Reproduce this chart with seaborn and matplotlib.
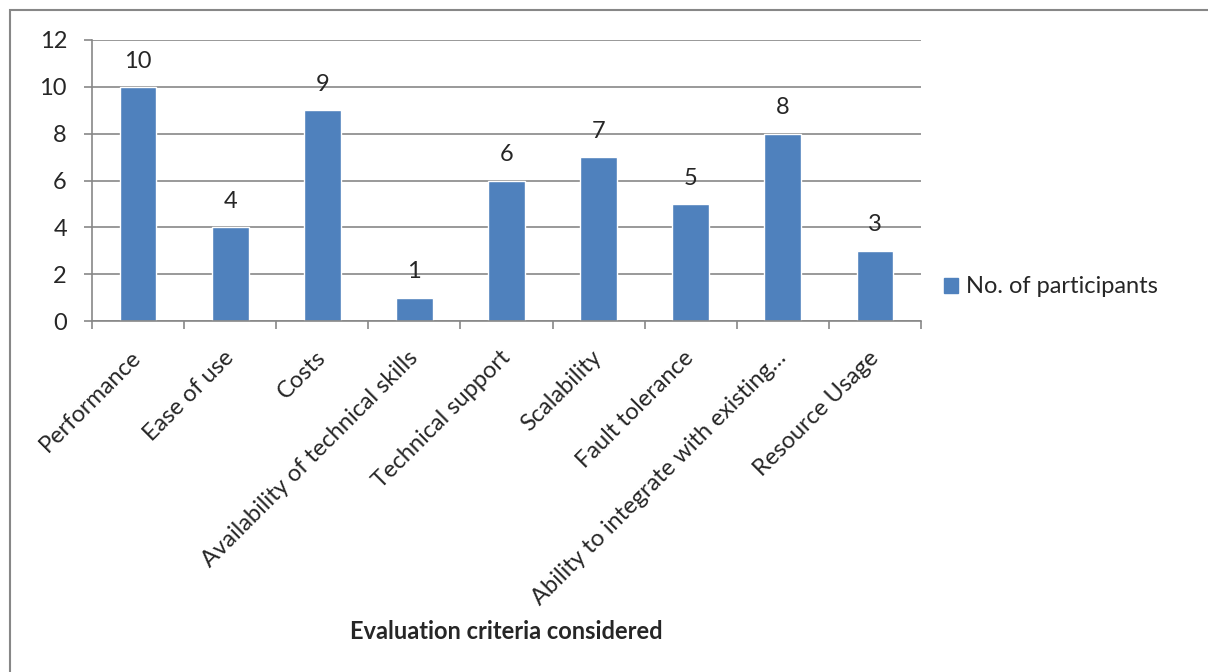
import matplotlib
matplotlib.use("Agg")
import matplotlib.pyplot as plt
import matplotlib.patches as mpatches
import seaborn as sns
import pandas as pd
import numpy as np

categories = ["Performance", "Ease of use", "Costs", "Availability of technical skills",
              "Technical support", "Scalability", "Fault tolerance",
              "Ability to integrate with existing\u2026", "Resource Usage"]
participants = [10, 4, 9, 1, 6, 7, 5, 8, 3]
series_name = "No. of participants"
yticks = [0, 2, 4, 6, 8, 10, 12]

sns.set_theme(style="white")
plt.rcParams['font.family'] = ['Lato', 'DejaVu Sans']

FS = 17
W, H = 1208, 672
fig = plt.figure(figsize=(W / 100, H / 100), dpi=100)
ax = fig.add_axes([92 / W, 1 - 321 / H, (921 - 92) / W, (321 - 40) / H])

df = pd.DataFrame({"category": categories, "value": participants})
sns.barplot(data=df, x="category", y="value", color="#4F81BD", saturation=1,
            width=0.4, ax=ax, legend=False)

ax.set_xlim(-0.5, len(categories) - 0.5)
ax.set_ylim(0, 12)
ax.set_yticks(yticks)
ax.set_yticklabels([str(t) for t in yticks], fontsize=FS)
ax.yaxis.grid(True, color="#878787", linewidth=1.2)
ax.set_axisbelow(True)

for s in ["top", "right"]:
    ax.spines[s].set_visible(False)
for s in ["left", "bottom"]:
    ax.spines[s].set_color("#878787")
    ax.spines[s].set_linewidth(1.2)

ax.tick_params(axis="y", length=6, width=1.2, color="#878787", pad=12, left=True)
ax.set_xticks(range(len(categories)))
ax.set_xticklabels(categories, rotation=45, ha="right", va="center",
                   rotation_mode="anchor", fontsize=FS)
ax.tick_params(axis="x", which="major", length=0, pad=24)
ax.set_xticks(np.arange(-0.5, len(categories), 1.0), minor=True)
ax.tick_params(axis="x", which="minor", length=6, width=1.2, color="#878787", bottom=True)

ax.set_xlabel("Evaluation criteria considered", fontsize=FS, fontweight="bold")
ax.xaxis.set_label_coords(0.5, -(620 - 321) / (321 - 40))
ax.set_ylabel("")

for c in ax.containers:
    ax.bar_label(c, fontsize=FS, padding=11)

handle = mpatches.Patch(color="#4F81BD", label=series_name)
fig.legend(handles=[handle], loc="center left", bbox_to_anchor=(944 / W, 1 - 287 / H),
           frameon=False, fontsize=FS, handlelength=0.6, handleheight=0.6,
           handletextpad=0.35, borderaxespad=0, borderpad=0)

border = mpatches.Rectangle((10 / W, -0.1), 1.2, 1 - 10 / H + 0.1, transform=fig.transFigure,
                            fill=False, edgecolor="#878787", linewidth=1.5)
fig.add_artist(border)

fig.savefig("out.png", dpi=100)
